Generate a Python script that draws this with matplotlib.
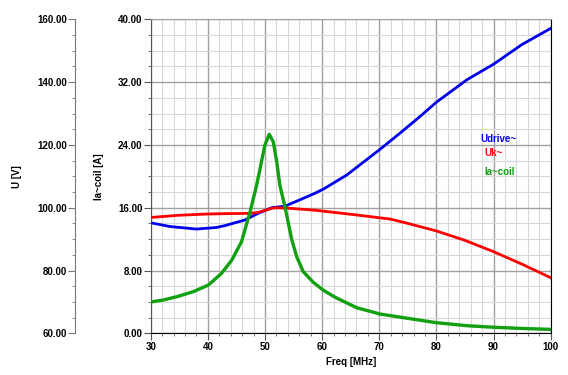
import matplotlib
matplotlib.use("Agg")
import matplotlib.pyplot as plt
from matplotlib.ticker import MultipleLocator, FormatStrFormatter

plt.rcParams['font.family'] = ['Liberation Sans', 'DejaVu Sans']
plt.rcParams['font.weight'] = 'bold'
plt.rcParams['font.size'] = 7

# values
freq_u = [30, 33.4, 38, 41.5, 43, 46.5, 48.8, 51.2, 53.5, 56.1, 58.75, 60.2,
          64.3, 70, 73.6, 77.1, 80, 85.3, 90, 95, 100]
udrive = [95.2, 94.0, 93.2, 93.7, 94.3, 96.1, 98.2, 100.0, 100.5, 102.5, 104.6,
          105.9, 110.4, 118.4, 123.7, 129.0, 133.6, 140.7, 145.7, 152.0, 157.1]

freq_uk = [30, 35, 40, 43, 47.4, 48.8, 51.2, 52, 54.4, 58.75, 60.2, 66, 70,
           71.9, 75, 80, 85, 90, 95, 100]
uk = [96.9, 97.6, 98.0, 98.1, 98.2, 98.5, 99.8, 100.0, 99.8, 99.2, 98.9, 97.7,
      96.8, 96.4, 95.0, 92.6, 89.6, 86.0, 82.0, 77.7]

freq_ia = [30, 32.2, 34.55, 37.45, 40.1, 42.4, 44.2, 45.9, 47.4, 48.55, 49.4,
           50.0, 50.75, 51.45, 52.05, 52.6, 53.5, 54.1, 54.7, 55.55, 56.7,
           58.45, 60.2, 62.25, 66.05, 70.1, 75.4, 80, 85.3, 90, 95, 100]
ia_coil = [3.99, 4.24, 4.66, 5.3, 6.15, 7.64, 9.34, 11.67, 15.5, 18.9, 21.9,
           24.0, 25.35, 24.4, 21.9, 18.9, 16.1, 14.0, 11.9, 9.76, 7.85, 6.5,
           5.5, 4.6, 3.26, 2.46, 1.86, 1.35, 0.97, 0.77, 0.62, 0.5]

fig = plt.figure(figsize=(5.68, 3.75), dpi=100)
ax = fig.add_axes([0.2653, 0.1112, 0.7042, 0.8373])
axu = ax.twinx()

# Ia~coil axis on the main axes (with the grid)
ax.set_xlim(30, 100)
ax.set_ylim(0, 40)
ax.xaxis.set_major_locator(MultipleLocator(10))
ax.xaxis.set_minor_locator(MultipleLocator(2))
ax.yaxis.set_major_locator(MultipleLocator(8))
ax.yaxis.set_minor_locator(MultipleLocator(2))
ax.yaxis.set_major_formatter(FormatStrFormatter('%.2f'))
ax.grid(which='major', color='#a0a0a0', lw=1.0)
ax.grid(which='minor', color='#d8d8d8', lw=0.8)
ax.tick_params(which='major', length=5, color='#555555', pad=1)
ax.tick_params(which='minor', length=2, color='#555555')
ax.spines['left'].set_color('#555555')
ax.spines['bottom'].set_color('black')
ax.spines['right'].set_color('black')
ax.spines['top'].set_color('#a0a0a0')
ax.set_xlabel('Freq [MHz]', fontweight='bold', labelpad=4)
ax.set_ylabel('Ia~coil [A]', fontweight='bold', labelpad=10)

# U axis as second spine further left
axu.yaxis.set_ticks_position('left')
axu.yaxis.set_label_position('left')
axu.spines['left'].set_position(('axes', -0.189))
axu.spines['left'].set_color('#777777')
for s in ['right', 'top', 'bottom']:
    axu.spines[s].set_visible(False)
axu.yaxis.set_major_locator(MultipleLocator(20))
axu.yaxis.set_minor_locator(MultipleLocator(5))
axu.yaxis.set_major_formatter(FormatStrFormatter('%.2f'))
axu.tick_params(which='major', length=5, color='#777777', pad=1)
axu.tick_params(which='minor', length=2, color='#777777')
axu.set_ylabel('U [V]', fontweight='bold', labelpad=11)

# all curves on the top axes so the grid stays behind them
axu.plot(freq_u, udrive, color='#0000ee', lw=2, solid_joinstyle='round')
axu.plot(freq_uk, uk, color='#ff0000', lw=2, solid_joinstyle='round')
axu.plot(freq_ia, ia_coil, color='#10a010', lw=2.4, solid_joinstyle='round',
         transform=ax.transData)
axu.set_ylim(60, 160)
axu.set_xlim(30, 100)

axu.text(0.825, 0.619, 'Udrive~', transform=ax.transAxes, color='#0000ee',
         fontweight='bold', va='center')
axu.text(0.833, 0.573, 'Uk~', transform=ax.transAxes, color='#ff0000',
         fontweight='bold', va='center')
axu.text(0.833, 0.515, 'Ia~coil', transform=ax.transAxes, color='#10a010',
         fontweight='bold', va='center')

fig.savefig('out.png', dpi=100)
